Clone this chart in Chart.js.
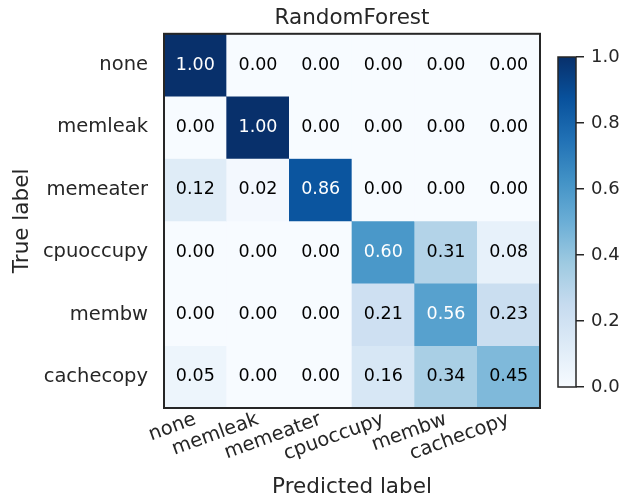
<!DOCTYPE html>
<html>
<head>
<meta charset="utf-8">
<script src="https://cdn.jsdelivr.net/npm/chart.js@4.4.1/dist/chart.umd.min.js"></script>
<style>
  body { margin: 0; background: #fff; }
  #wrap { position: relative; width: 627px; height: 502px; }
  #cb { position: absolute; left: 540px; top: 0; }
</style>
</head>
<body>
<div id="wrap">
  <canvas id="chart" width="627" height="502"></canvas>
  <canvas id="cb" width="87" height="502"></canvas>
</div>
<script>
// Data
const categories = ['none', 'memleak', 'memeater', 'cpuoccupy', 'membw', 'cachecopy'];
const rowNone      = [1.00, 0.00, 0.00, 0.00, 0.00, 0.00];
const rowMemleak   = [0.00, 1.00, 0.00, 0.00, 0.00, 0.00];
const rowMemeater  = [0.12, 0.02, 0.86, 0.00, 0.00, 0.00];
const rowCpuoccupy = [0.00, 0.00, 0.00, 0.60, 0.31, 0.08];
const rowMembw     = [0.00, 0.00, 0.00, 0.21, 0.56, 0.23];
const rowCachecopy = [0.05, 0.00, 0.00, 0.16, 0.34, 0.45];
const matrix = [rowNone, rowMemleak, rowMemeater, rowCpuoccupy, rowMembw, rowCachecopy];
const colorbarTicks = [0, 0.2, 0.4, 0.6, 0.8, 1.0];

const FONT = 'DejaVu Sans';
const DARK = '#262626';

// matplotlib "Blues"
const blues = [
  [247, 251, 255], [222, 235, 247], [198, 219, 239], [158, 202, 225],
  [107, 174, 214], [66, 146, 198], [33, 113, 181], [8, 81, 156], [8, 48, 107]
];
function bluesColor(v) {
  v = Math.max(0, Math.min(1, v));
  const pos = v * (blues.length - 1);
  const i = Math.min(Math.floor(pos), blues.length - 2);
  const t = pos - i;
  const c = blues[i].map((a, k) => Math.round(a + (blues[i + 1][k] - a) * t));
  return 'rgb(' + c.join(',') + ')';
}

// one floating bar per cell: row i spans y = i..i+1
const datasets = matrix.map((row, i) => ({
  label: categories[i],
  data: row.map(() => [i, i + 1]),
  backgroundColor: row.map(v => bluesColor(v)),
  borderWidth: 0,
  barPercentage: 1,
  categoryPercentage: 1
}));

const cellText = {
  id: 'cellText',
  afterDatasetsDraw(chart) {
    const {ctx, scales: {x, y}} = chart;
    ctx.save();
    ctx.font = '17.5px "' + FONT + '"';
    ctx.textAlign = 'center';
    ctx.textBaseline = 'middle';
    matrix.forEach((row, i) => {
      row.forEach((v, j) => {
        ctx.fillStyle = v > 0.5 ? '#ffffff' : '#000000';
        ctx.fillText(v.toFixed(2), x.getPixelForValue(j), y.getPixelForValue(i + 0.5));
      });
    });
    ctx.restore();
  }
};

const frame = {
  id: 'frame',
  afterDraw(chart) {
    const a = chart.chartArea;
    const ctx = chart.ctx;
    ctx.save();
    ctx.strokeStyle = DARK;
    ctx.lineWidth = chart.options.frameWidth || 2;
    ctx.strokeRect(a.left, a.top, a.right - a.left, a.bottom - a.top);
    ctx.restore();
  }
};

new Chart(document.getElementById('chart'), {
  type: 'bar',
  data: { labels: categories, datasets: datasets },
  options: {
    responsive: false,
    animation: false,
    layout: { padding: { left: 0, right: 87, top: 0, bottom: 0 } },
    plugins: {
      legend: { display: false },
      tooltip: { enabled: false },
      title: {
        display: true,
        text: 'RandomForest',
        fullSize: false,
        color: DARK,
        font: { family: FONT, size: 21.5, weight: 'normal' },
        padding: { top: 6, bottom: 2 }
      }
    },
    scales: {
      x: {
        stacked: true,
        grid: { display: false },
        border: { display: false },
        ticks: {
          color: DARK,
          font: { family: FONT, size: 19.5 },
          minRotation: 20,
          maxRotation: 20,
          autoSkip: false,
          padding: -8
        },
        title: {
          display: true,
          text: 'Predicted label',
          color: DARK,
          font: { family: FONT, size: 21.5 },
          padding: { top: 0, bottom: 2 }
        },
        afterFit(scale) { scale.height = 94; }
      },
      y: {
        min: 0,
        max: 6,
        reverse: true,
        grid: { display: false },
        border: { display: false },
        afterBuildTicks(scale) {
          scale.ticks = categories.map((c, i) => ({ value: i + 0.5 }));
        },
        ticks: {
          color: DARK,
          font: { family: FONT, size: 19.5 },
          padding: 8,
          callback: (v, idx) => categories[idx]
        },
        title: {
          display: true,
          text: 'True label',
          color: DARK,
          font: { family: FONT, size: 21.5 },
          padding: { top: 10, bottom: 0 }
        },
        afterFit(scale) { scale.width = 164; }
      }
    }
  },
  plugins: [cellText, frame]
});

// colorbar
new Chart(document.getElementById('cb'), {
  type: 'bar',
  data: {
    labels: ['cb'],
    datasets: [{
      data: [[0, 1]],
      borderWidth: 0,
      barPercentage: 1,
      categoryPercentage: 1,
      backgroundColor(ctx) {
        const area = ctx.chart.chartArea;
        if (!area) return bluesColor(0.5);
        const g = ctx.chart.ctx.createLinearGradient(0, area.bottom, 0, area.top);
        blues.forEach((c, i) => g.addColorStop(i / (blues.length - 1), 'rgb(' + c.join(',') + ')'));
        return g;
      }
    }]
  },
  options: {
    responsive: false,
    animation: false,
    frameWidth: 1.5,
    layout: { padding: { left: 18, right: 0, top: 57, bottom: 115 } },
    plugins: { legend: { display: false }, tooltip: { enabled: false } },
    scales: {
      x: { display: false },
      y: {
        position: 'right',
        min: 0,
        max: 1,
        grid: { drawOnChartArea: false, drawTicks: true, tickLength: 8, color: DARK, lineWidth: 1.5 },
        border: { display: false },
        afterBuildTicks(scale) {
          scale.ticks = colorbarTicks.map(v => ({ value: v }));
        },
        ticks: {
          color: DARK,
          font: { family: FONT, size: 18 },
          padding: 7,
          callback: v => v.toFixed(1)
        },
        afterFit(scale) { scale.width = 51; }
      }
    }
  },
  plugins: [frame]
});
</script>
</body>
</html>
